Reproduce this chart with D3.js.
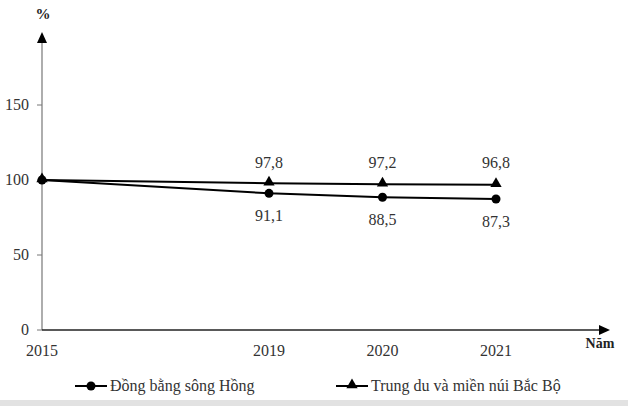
<!DOCTYPE html>
<html>
<head>
<meta charset="utf-8">
<script src="https://cdn.jsdelivr.net/npm/d3@7"></script>
<style>
  body { margin: 0; background: #fff; }
  svg text { font-family: "Liberation Serif", "Times New Roman", Times, "DejaVu Serif", serif; }
</style>
</head>
<body>
<div id="chart"></div>
<script>
// Chart data
var years = [2015, 2019, 2020, 2021];
var dongBang = [100, 91.1, 88.5, 87.3];
var trungDu = [100, 97.8, 97.2, 96.8];
var yTicks = [0, 50, 100, 150];
var seriesNames = ["Đồng bằng sông Hồng", "Trung du và miền núi Bắc Bộ"];

var width = 628, height = 406;

var svg = d3.select("#chart").append("svg")
    .attr("width", width)
    .attr("height", height)
    .style("display", "block");

// Grey strip at the very bottom
svg.append("rect")
    .attr("x", 0).attr("y", 400)
    .attr("width", width).attr("height", 6)
    .attr("fill", "#e2e2e2");

// Scales (the gap 2015-2019 is drawn as two steps)
var x = d3.scaleLinear().domain([2015, 2019, 2021]).range([42, 269, 496]);
var y = d3.scaleLinear().domain([0, 150]).range([330, 105]);

// Y axis line with arrow
svg.append("line")
    .attr("x1", 42).attr("x2", 42)
    .attr("y1", y(0)).attr("y2", 40)
    .attr("stroke", "#777").attr("stroke-width", 1.2);
svg.append("path")
    .attr("d", "M42,32 L37,43 L47,43 Z")
    .attr("fill", "#000");

// Y ticks and labels
yTicks.forEach(function (t) {
    svg.append("line")
        .attr("x1", 37).attr("x2", 42)
        .attr("y1", y(t)).attr("y2", y(t))
        .attr("stroke", "#777");
    svg.append("text")
        .attr("x", 29).attr("y", y(t) + 5)
        .attr("text-anchor", "end")
        .attr("font-size", 16)
        .attr("fill", "#333")
        .text(t);
});

// X axis line with arrow
svg.append("line")
    .attr("x1", 42).attr("x2", 602)
    .attr("y1", y(0)).attr("y2", y(0))
    .attr("stroke", "#222").attr("stroke-width", 1.5);
svg.append("path")
    .attr("d", "M610,330 L599,325 L599,335 Z")
    .attr("fill", "#000");

// X labels
years.forEach(function (yr) {
    svg.append("text")
        .attr("x", x(yr)).attr("y", 356)
        .attr("text-anchor", "middle")
        .attr("font-size", 16)
        .attr("fill", "#333")
        .text(yr);
});

// Axis titles
svg.append("text")
    .attr("x", 43).attr("y", 19)
    .attr("text-anchor", "middle")
    .attr("font-size", 15).attr("font-weight", "bold")
    .attr("fill", "#222")
    .text("%");
svg.append("text")
    .attr("x", 600).attr("y", 348)
    .attr("text-anchor", "middle")
    .attr("font-size", 14).attr("font-weight", "bold")
    .attr("fill", "#222")
    .text("Năm");

var line = d3.line()
    .x(function (d, i) { return x(years[i]); })
    .y(function (d) { return y(d); });

// Lines
[dongBang, trungDu].forEach(function (s) {
    svg.append("path")
        .datum(s)
        .attr("d", line)
        .attr("fill", "none")
        .attr("stroke", "#000")
        .attr("stroke-width", 2);
});

var triangle = d3.symbol().type(d3.symbolTriangle).size(55);

// Markers
svg.selectAll(".dot")
    .data(dongBang)
    .join("circle")
    .attr("class", "dot")
    .attr("cx", function (d, i) { return x(years[i]); })
    .attr("cy", function (d) { return y(d); })
    .attr("r", 4.5)
    .attr("fill", "#000");

svg.selectAll(".tri")
    .data(trungDu)
    .join("path")
    .attr("class", "tri")
    .attr("d", triangle)
    .attr("transform", function (d, i) { return "translate(" + x(years[i]) + "," + (y(d) - 1) + ")"; })
    .attr("fill", "#000");

// Value labels (skip 2015)
function fmt(v) { return String(v).replace(".", ","); }

svg.selectAll(".lblTop")
    .data(trungDu.slice(1))
    .join("text")
    .attr("class", "lblTop")
    .attr("x", function (d, i) { return x(years[i + 1]); })
    .attr("y", 168)
    .attr("text-anchor", "middle")
    .attr("font-size", 16)
    .attr("fill", "#333")
    .text(fmt);

svg.selectAll(".lblBot")
    .data(dongBang.slice(1))
    .join("text")
    .attr("class", "lblBot")
    .attr("x", function (d, i) { return x(years[i + 1]); })
    .attr("y", function (d) { return y(d) + 28; })
    .attr("text-anchor", "middle")
    .attr("font-size", 16)
    .attr("fill", "#333")
    .text(fmt);

// Legend
var legend = [
    { name: seriesNames[0], x: 75, marker: "circle" },
    { name: seriesNames[1], x: 336, marker: "triangle" }
];
legend.forEach(function (l) {
    var ly = 386;
    svg.append("line")
        .attr("x1", l.x).attr("x2", l.x + 32)
        .attr("y1", ly).attr("y2", ly)
        .attr("stroke", "#000").attr("stroke-width", 2);
    if (l.marker === "circle") {
        svg.append("circle")
            .attr("cx", l.x + 16).attr("cy", ly)
            .attr("r", 4.5).attr("fill", "#000");
    } else {
        svg.append("path")
            .attr("d", triangle)
            .attr("transform", "translate(" + (l.x + 16) + "," + (ly - 1) + ")")
            .attr("fill", "#000");
    }
    svg.append("text")
        .attr("x", l.x + 35).attr("y", ly + 5)
        .attr("font-size", 16)
        .attr("fill", "#333")
        .text(l.name);
});
</script>
</body>
</html>
